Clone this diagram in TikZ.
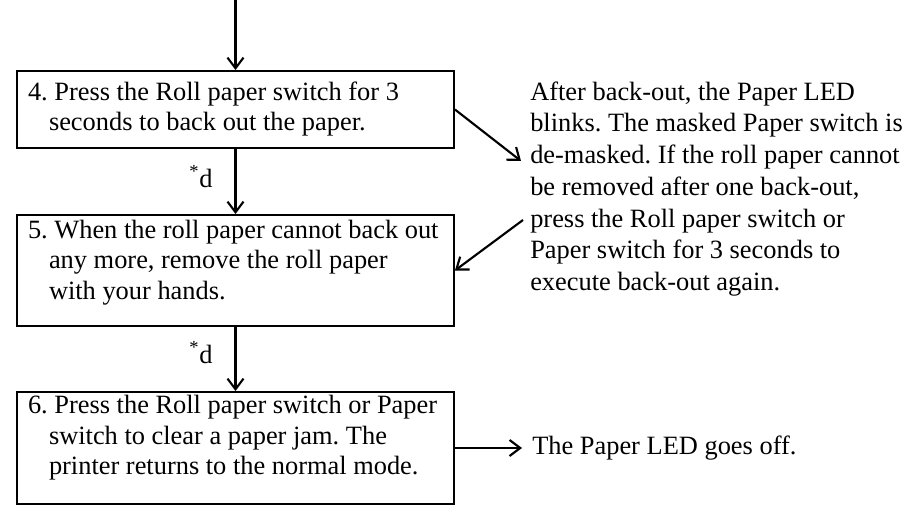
\documentclass[tikz,border=0pt]{standalone}
\usepackage{fontspec}
\setmainfont{Liberation Serif}
\usetikzlibrary{arrows.meta}
\newdimen\pxu
\pxu=0.75pt
\frenchspacing
\tikzset{
  stepbox/.style={draw, line width=1.4pt, rectangle, minimum width=437\pxu,
    inner xsep=11\pxu, inner ysep=0pt,
    font=\fontsize{19.8pt}{22.9pt}\selectfont},
  note/.style={inner sep=0pt, align=left, font=\fontsize{19.8pt}{23.8pt}\selectfont},
  flow/.style={line width=1.6pt, -{Straight Barb[length=8pt,width=12pt,line width=1.6pt]}}
}
\newcommand{\hang}{\hspace*{21\pxu}}
\newcommand{\boxtext}[2]{\raisebox{#1\pxu}[\height][\depth]{\makebox[415\pxu][l]{\begin{tabular}{@{}l@{}}#2\end{tabular}}}}
\begin{document}
\frenchspacing
\begin{tikzpicture}[x=0.75pt,y=-0.75pt]
\useasboundingbox (0,0) rectangle (920,506);
\coordinate (top) at (235.5,0);
\node[stepbox, minimum height=77\pxu] (b4) at (235.5,109.5)
  {\boxtext{0}{4. Press the Roll paper switch for 3\\\hang seconds to back out the paper.}};
\node[stepbox, minimum height=111\pxu] (b5) at (235.5,270.5)
  {\boxtext{8}{5. When the roll paper cannot back out\\\hang any more, remove the roll paper\\\hang with your hands.}};
\node[stepbox, minimum height=112\pxu] (b6) at (235.5,448)
  {\boxtext{10}{6. Press the Roll paper switch or Paper\\\hang switch to clear a paper jam. The\\\hang printer returns to the normal mode.}};
\node[note, anchor=center] (d1) at (201,177) {\textsuperscript{*}d};
\node[note, anchor=center] (d2) at (201,353) {\textsuperscript{*}d};
\node[note, anchor=west] (n1) at (530,189)
  {After back-out, the Paper LED\\blinks. The masked Paper switch is\\de-masked. If the roll paper cannot\\be removed after one back-out,\\press the Roll paper switch or\\Paper switch for 3 seconds to\\execute back-out again.};
\node[note, anchor=west] (n2) at (532,448) {The Paper LED goes off.};
\coordinate (a1end) at (521,161);
\coordinate (a2start) at (523,220);
\coordinate (a3end) at (522,448);
\draw[flow] (top) -- (b4.north);
\draw[flow] (b4.south) -- (b5.north);
\draw[flow] (b5.south) -- (b6.north);
\draw[flow] (b4.east) -- (a1end);
\draw[flow] (a2start) -- (b5.east);
\draw[flow] (b6.east) -- (a3end);
\end{tikzpicture}
\end{document}
